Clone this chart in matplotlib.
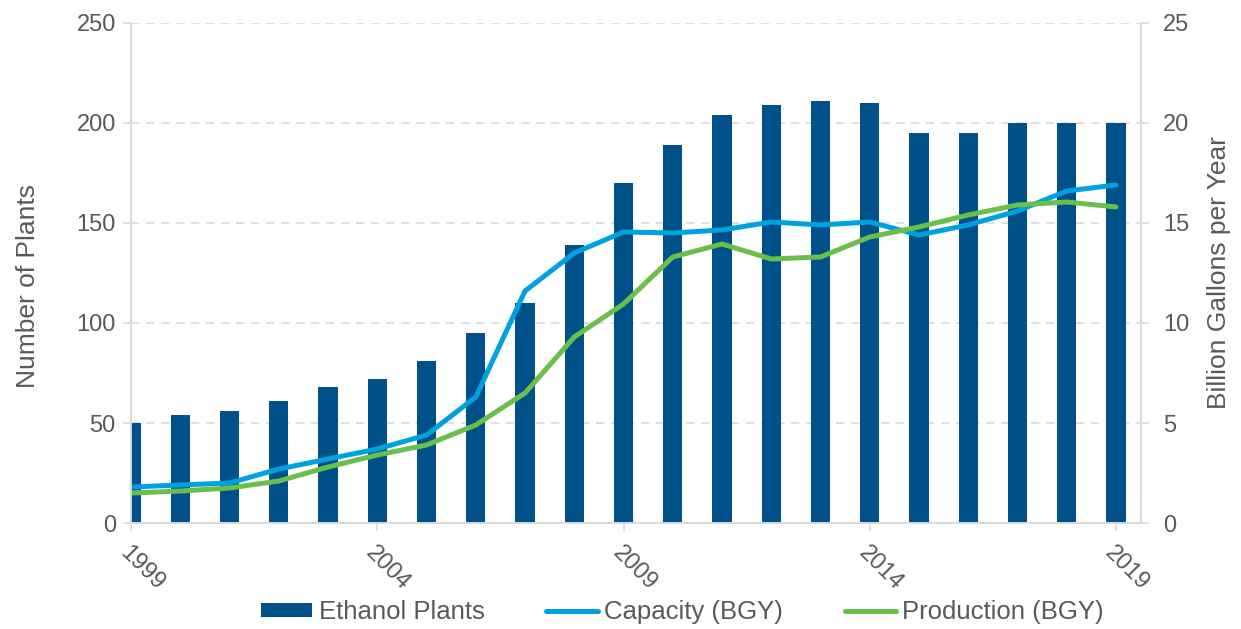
import matplotlib.pyplot as plt
import matplotlib.transforms as mtransforms
import numpy as np

plt.rcParams["font.family"] = ["Liberation Sans", "DejaVu Sans"]

years = np.arange(1999, 2020)
plants = [50, 54, 56, 61, 68, 72, 81, 95, 110, 139, 170, 189, 204, 209, 211, 210,
          195, 195, 200, 200, 200]
capacity = [1.8, 1.9, 2.0, 2.7, 3.2, 3.7, 4.4, 6.3, 11.6, 13.5, 14.55, 14.5, 14.65,
            15.05, 14.9, 15.05, 14.4, 14.9, 15.6, 16.6, 16.9]
production = [1.5, 1.6, 1.75, 2.1, 2.8, 3.4, 3.9, 4.9, 6.5, 9.3, 10.95, 13.3, 13.95,
              13.2, 13.3, 14.3, 14.8, 15.4, 15.9, 16.05, 15.8]
tick_years = [1999, 2004, 2009, 2014, 2019]

bar_color = "#005189"
cap_color = "#00A1E0"
prod_color = "#6ABF4B"
text_color = "#595959"
grid_color = "#D9D9D9"

fig = plt.figure(figsize=(12.41, 6.29), dpi=100)
ax = fig.add_axes([0.1056, 0.1685, 0.8135, 0.795])
ax2 = ax.twinx()

ax.bar(years, plants, width=0.39, color=bar_color, label="Ethanol Plants", zorder=2)
ax2.plot(years, capacity, color=cap_color, lw=3.6, label="Capacity (BGY)",
         solid_capstyle="round")
ax2.plot(years, production, color=prod_color, lw=3.6, label="Production (BGY)",
         solid_capstyle="round")

ax.set_xlim(1999, 2019.5)
ax.set_ylim(0, 250)
ax2.set_ylim(0, 25)
ax.set_yticks(np.arange(0, 251, 50))
ax2.set_yticks(np.arange(0, 26, 5))
ax.set_xticks(tick_years)
ax.set_xticklabels([str(y) for y in tick_years], rotation=-45, ha="left",
                   rotation_mode="anchor")
shift = mtransforms.ScaledTranslation(4 / 72, 0, fig.dpi_scale_trans)
for lab in ax.get_xticklabels():
    lab.set_transform(lab.get_transform() + shift)

ax.yaxis.grid(True, color=grid_color, linestyle=(0, (5, 4)), lw=1.2, zorder=0)
ax.set_axisbelow(True)

for a in (ax, ax2):
    for s in a.spines.values():
        s.set_color(grid_color)
        s.set_linewidth(1.2)
    a.spines["top"].set_visible(False)
    a.tick_params(colors=grid_color, labelcolor=text_color, labelsize=17,
                  length=6, width=1.2)

ax.set_ylabel("Number of Plants", fontsize=19, color=text_color, labelpad=26)
ax.yaxis.label.set_y(0.474)
ax2.set_ylabel("Billion Gallons per Year", fontsize=19, color=text_color, labelpad=13)
ax.tick_params(axis="x", pad=8)
ax.tick_params(axis="y", pad=5)
ax2.tick_params(axis="y", pad=10)

h1, l1 = ax.get_legend_handles_labels()
h2, l2 = ax2.get_legend_handles_labels()
fig.legend(h1 + h2, l1 + l2, loc="center", bbox_to_anchor=(0.55, 0.027), ncol=3,
           frameon=False, fontsize=18.5, labelcolor=text_color, handlelength=2.0,
           handleheight=0.5, handletextpad=0.25, columnspacing=2.4)

fig.savefig("out.png", dpi=100)
plt.close(fig)
